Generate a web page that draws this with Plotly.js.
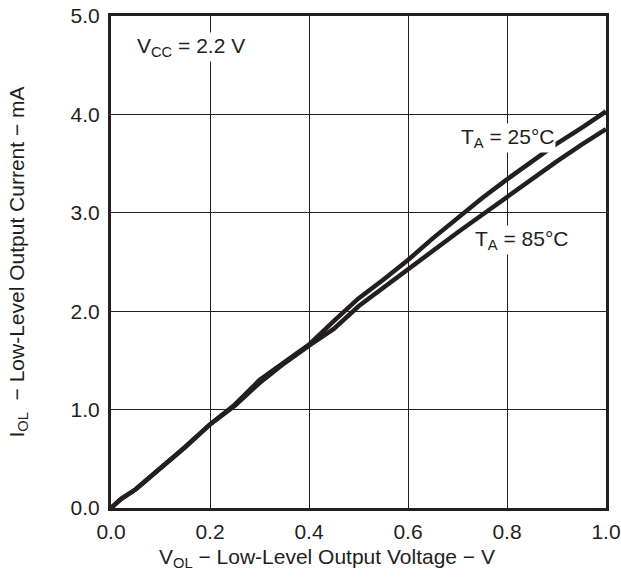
<!DOCTYPE html>
<html>
<head>
<meta charset="utf-8">
<script src="https://cdn.plot.ly/plotly-3.0.1.min.js"></script>
<style>html,body{margin:0;padding:0;background:#fff;}#chart{width:621px;height:577px;}</style>
</head>
<body>
<div id="chart"></div>
<script>
const vol = [0, 0.02, 0.05, 0.1, 0.15, 0.2, 0.25, 0.3, 0.35, 0.4, 0.45, 0.5, 0.55, 0.6, 0.65, 0.7, 0.75, 0.8, 0.85, 0.9, 0.95, 1.0];
const iol25 = [0, 0.09, 0.19, 0.4, 0.62, 0.85, 1.05, 1.3, 1.48, 1.66, 1.9, 2.13, 2.32, 2.52, 2.74, 2.95, 3.15, 3.34, 3.52, 3.7, 3.86, 4.03];
const iol85 = [0, 0.09, 0.19, 0.4, 0.62, 0.85, 1.04, 1.27, 1.47, 1.65, 1.82, 2.05, 2.24, 2.43, 2.61, 2.8, 2.98, 3.16, 3.35, 3.52, 3.69, 3.85];
const xTicks = [0, 0.2, 0.4, 0.6, 0.8, 1.0];
const xTickText = ["0.0", "0.2", "0.4", "0.6", "0.8", "1.0"];
const yTicks = [0, 1, 2, 3, 4, 5];
const yTickText = ["0.0", "1.0", "2.0", "3.0", "4.0", "5.0"];
const xTitle = "V<sub>OL</sub> − Low-Level Output Voltage − V";
const yTitle = "I<sub>OL</sub>  − Low-Level Output Current − mA";

const font = {family: "Liberation Sans, Arial, sans-serif", size: 21, color: "#231f20"};
const traces = [
  {x: vol, y: iol25, mode: "lines", line: {color: "#231f20", width: 4.5}, hoverinfo: "skip"},
  {x: vol, y: iol85, mode: "lines", line: {color: "#231f20", width: 4.5}, hoverinfo: "skip"}
];
const layout = {
  width: 621, height: 577,
  margin: {l: 111, r: 15, t: 16, b: 69},
  paper_bgcolor: "#fff", plot_bgcolor: "#fff",
  showlegend: false,
  font: font,
  xaxis: {
    range: [0, 1], tickvals: xTicks, ticktext: xTickText,
    showgrid: true, gridcolor: "#231f20", gridwidth: 1,
    showline: true, linecolor: "#231f20", linewidth: 3, mirror: true,
    ticks: "", ticklabelstandoff: 3, zeroline: false, fixedrange: true, automargin: false
  },
  yaxis: {
    range: [0, 5], tickvals: yTicks, ticktext: yTickText,
    showgrid: true, gridcolor: "#231f20", gridwidth: 1,
    showline: true, linecolor: "#231f20", linewidth: 3, mirror: true,
    ticks: "", ticklabelstandoff: 4, zeroline: false, fixedrange: true, automargin: false,
    title: {text: yTitle, font: font, standoff: 41}
  },
  annotations: [
    {x: 0.436, y: -0.102, xref: "paper", yref: "paper", xanchor: "center", yanchor: "middle", text: xTitle, showarrow: false, font: font},
    {x: 0.049, y: 4.69, xref: "x", yref: "y", xanchor: "left", yanchor: "middle", text: "V<sub>CC</sub> = 2.2 V", showarrow: false, bgcolor: "#fff", font: font},
    {x: 0.8, y: 3.76, xref: "x", yref: "y", xanchor: "center", yanchor: "middle", text: "T<sub>A</sub> = 25°C", showarrow: false, bgcolor: "#fff", font: font},
    {x: 0.829, y: 2.72, xref: "x", yref: "y", xanchor: "center", yanchor: "middle", text: "T<sub>A</sub> = 85°C", showarrow: false, bgcolor: "#fff", font: font}
  ]
};
Plotly.newPlot("chart", traces, layout, {displayModeBar: false, staticPlot: true});
</script>
</body>
</html>
